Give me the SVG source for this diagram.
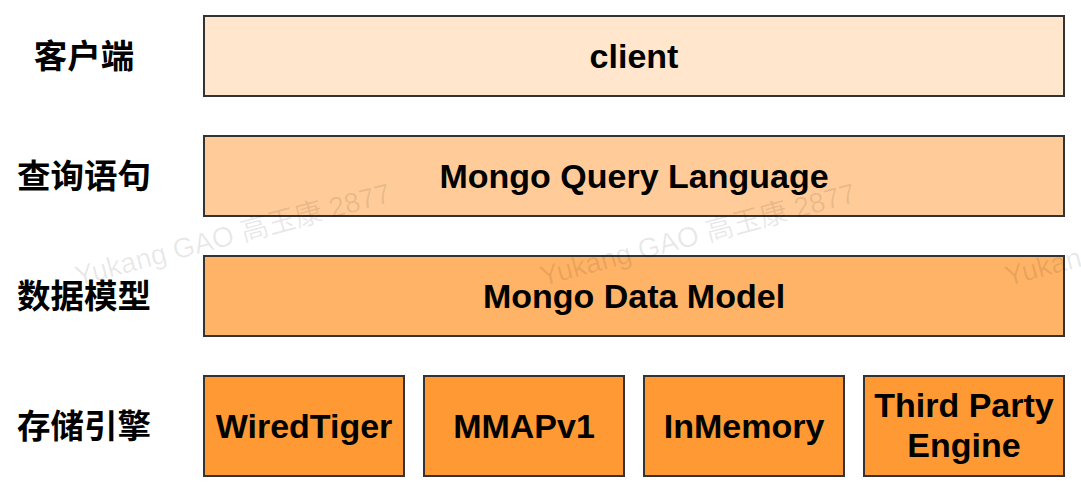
<svg xmlns="http://www.w3.org/2000/svg" width="1081" height="494" viewBox="0 0 1081 494">
  <style>
    .box { stroke: #333333; stroke-width: 2; }
    .t { font-family: "Liberation Sans", Arial, sans-serif; font-weight: bold; font-size: 34px; fill: #000000; text-anchor: middle; }
    .lab { font-family: "Noto Sans CJK SC", "Noto Sans", sans-serif; font-weight: bold; font-size: 33.5px; fill: #000000; text-anchor: middle; }
    .wm { font-family: "Liberation Sans", "Noto Sans CJK SC", sans-serif; font-size: 28px; fill: #000000; fill-opacity: 0.09; }
  </style>
  <rect width="1081" height="494" fill="#ffffff"/>
  <g id="labels">
    <text class="lab" x="84" y="68">客户端</text>
    <text class="lab" x="84" y="188">查询语句</text>
    <text class="lab" x="84" y="308">数据模型</text>
    <text class="lab" x="84" y="438">存储引擎</text>
  </g>
  <g id="connectors"></g>
  <g id="client">
    <rect class="box" x="204" y="16" width="860" height="80" fill="#FFE6CC"/>
    <text class="t" x="634" y="68">client</text>
  </g>
  <g id="mql">
    <rect class="box" x="204" y="136" width="860" height="80" fill="#FFCC99"/>
    <text class="t" x="634" y="188">Mongo Query Language</text>
  </g>
  <g id="datamodel">
    <rect class="box" x="204" y="256" width="860" height="80" fill="#FFB366"/>
    <text class="t" x="634" y="308">Mongo Data Model</text>
  </g>
  <g id="wiredtiger">
    <rect class="box" x="204" y="376" width="200" height="100" fill="#FF9933"/>
    <text class="t" x="304" y="438">WiredTiger</text>
  </g>
  <g id="mmapv1">
    <rect class="box" x="424" y="376" width="200" height="100" fill="#FF9933"/>
    <text class="t" x="524" y="438">MMAPv1</text>
  </g>
  <g id="inmemory">
    <rect class="box" x="644" y="376" width="200" height="100" fill="#FF9933"/>
    <text class="t" x="744" y="438">InMemory</text>
  </g>
  <g id="thirdparty">
    <rect class="box" x="864" y="376" width="200" height="100" fill="#FF9933"/>
    <text class="t" x="964" y="417">Third Party</text>
    <text class="t" x="964" y="457">Engine</text>
  </g>
  <g id="watermark">
    <text class="wm" transform="translate(78,286) rotate(-15)">Yukang GAO 高玉康 2877</text>
    <text class="wm" transform="translate(543,286) rotate(-15)">Yukang GAO 高玉康 2877</text>
    <text class="wm" transform="translate(1008,286) rotate(-15)">Yukang GAO 高玉康 2877</text>
  </g>
</svg>
